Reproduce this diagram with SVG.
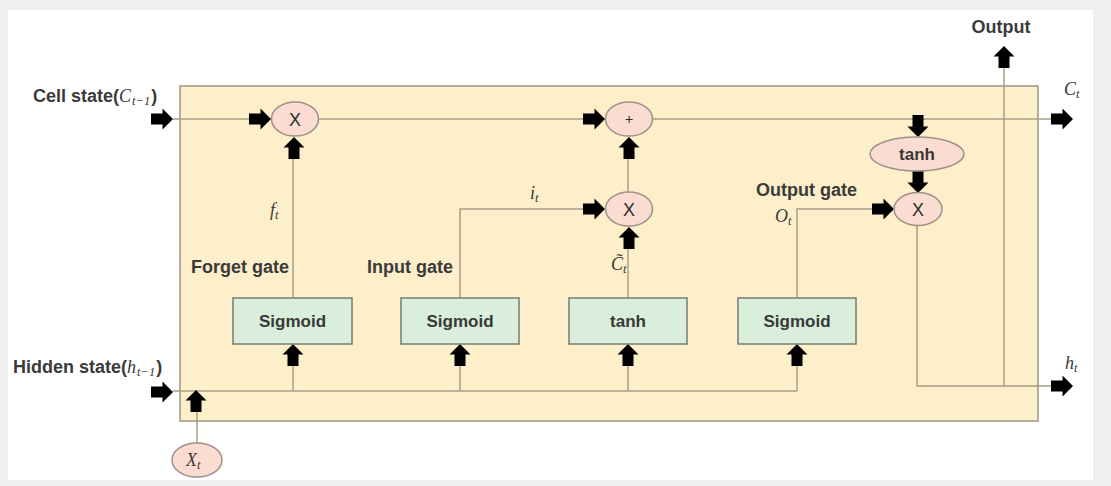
<svg xmlns="http://www.w3.org/2000/svg" width="1111" height="486" viewBox="0 0 1111 486">
  <style>
    .lbl { font-family: "Liberation Sans", Arial, sans-serif; font-size: 18px; font-weight: bold; fill: #3a3a3a; }
    .box-txt { font-family: "Liberation Sans", Arial, sans-serif; font-size: 17px; font-weight: bold; fill: #383838; text-anchor: middle; }
    .op { font-family: "Liberation Sans", Arial, sans-serif; font-size: 18px; fill: #2e2e2e; text-anchor: middle; }
    .math { font-family: "Liberation Serif", "Times New Roman", serif; font-style: italic; font-weight: normal; font-size: 18px; fill: #3a3a3a; }
    .sub { font-size: 12.5px; }
    .wire { fill: none; stroke: #a89f86; stroke-width: 1.5; }
    .gate { fill: #d9eedb; stroke: #767c74; stroke-width: 1.5; }
    .oper { fill: #fadcd0; stroke: #9f918a; stroke-width: 1.5; }
  </style>
  <defs>
    <!-- block arrow, tip at the origin, pointing right -->
    <path id="arr" d="M-22,-5.5 H-10.5 V-10.5 L0,0 L-10.5,10.5 V5.5 H-22 Z" fill="#000"/>
  </defs>

  <!-- page -->
  <rect x="0" y="0" width="1111" height="486" fill="#efefef"/>
  <rect x="8" y="10" width="1085" height="470" fill="#ffffff"/>

  <!-- LSTM cell body -->
  <g id="cell">
    <rect x="180" y="86" width="858" height="335" fill="#fcefc9" stroke="#9c9584" stroke-width="1.5"/>
  </g>

  <!-- connectors -->
  <g id="connectors">
    <path class="wire" d="M173,119 H1052"/>
    <path class="wire" d="M293,158 V298"/>
    <path class="wire" d="M628,158 V192"/>
    <path class="wire" d="M460,298 V209 H584"/>
    <path class="wire" d="M628,248 V298"/>
    <path class="wire" d="M173,391 H797"/>
    <path class="wire" d="M293,391 V364 M460,391 V364 M628,391 V364 M797,391 V364"/>
    <path class="wire" d="M197,443 V410"/>
    <path class="wire" d="M797,298 V209 H873"/>
    <path class="wire" d="M917,226 V386 H1052"/>
    <path class="wire" d="M1004,386 V68"/>

    <use href="#arr" transform="translate(173,119)"/>
    <use href="#arr" transform="translate(271,119)"/>
    <use href="#arr" transform="translate(294,137) rotate(-90)"/>
    <use href="#arr" transform="translate(605,119)"/>
    <use href="#arr" transform="translate(629,137) rotate(-90)"/>
    <use href="#arr" transform="translate(605,209)"/>
    <use href="#arr" transform="translate(629,227) rotate(-90)"/>
    <use href="#arr" transform="translate(293,344) rotate(-90)"/>
    <use href="#arr" transform="translate(460,344) rotate(-90)"/>
    <use href="#arr" transform="translate(628,344) rotate(-90)"/>
    <use href="#arr" transform="translate(797,344) rotate(-90)"/>
    <use href="#arr" transform="translate(173,392)"/>
    <use href="#arr" transform="translate(196,390) rotate(-90)"/>
    <use href="#arr" transform="translate(894,209)"/>
    <use href="#arr" transform="translate(918,137) rotate(90)"/>
    <use href="#arr" transform="translate(918,193) rotate(90)"/>
    <use href="#arr" transform="translate(1004,46) rotate(-90)"/>
    <use href="#arr" transform="translate(1073,119)"/>
    <use href="#arr" transform="translate(1073,386)"/>
  </g>

  <!-- pointwise operations -->
  <g id="forget-mul">
    <ellipse class="oper" cx="295" cy="119" rx="23.5" ry="17"/>
    <text class="op" x="295" y="125.5">X</text>
  </g>
  <g id="cell-add">
    <ellipse class="oper" cx="629" cy="119" rx="23.5" ry="17"/>
    <text class="op" x="629" y="124" style="font-size:14px">+</text>
  </g>
  <g id="input-mul">
    <ellipse class="oper" cx="629" cy="209" rx="23.5" ry="17"/>
    <text class="op" x="629" y="215.5">X</text>
  </g>
  <g id="output-tanh">
    <ellipse class="oper" cx="917" cy="154" rx="47" ry="17"/>
    <text class="box-txt" x="917" y="160">tanh</text>
  </g>
  <g id="output-mul">
    <ellipse class="oper" cx="918" cy="209" rx="24" ry="16.5"/>
    <text class="op" x="918" y="215.5">X</text>
  </g>
  <g id="input-x">
    <ellipse class="oper" cx="197" cy="460" rx="25" ry="17"/>
    <text class="math" x="186" y="466">X<tspan class="sub" dy="3">t</tspan></text>
  </g>

  <!-- neural network layers -->
  <g id="forget-sigmoid">
    <rect class="gate" x="233" y="298" width="119" height="46"/>
    <text class="box-txt" x="292.5" y="327">Sigmoid</text>
  </g>
  <g id="input-sigmoid">
    <rect class="gate" x="401" y="298" width="118" height="46"/>
    <text class="box-txt" x="460" y="327">Sigmoid</text>
  </g>
  <g id="candidate-tanh">
    <rect class="gate" x="569" y="298" width="118" height="46"/>
    <text class="box-txt" x="628" y="327">tanh</text>
  </g>
  <g id="output-sigmoid">
    <rect class="gate" x="738" y="298" width="118" height="46"/>
    <text class="box-txt" x="797" y="327">Sigmoid</text>
  </g>

  <!-- labels -->
  <g id="labels">
    <text class="lbl" x="33" y="102">Cell state(<tspan class="math">C</tspan><tspan class="math sub" dy="3" dx="1">t−1</tspan><tspan dy="-3" dx="1">)</tspan></text>
    <text class="lbl" x="13" y="373">Hidden state(<tspan class="math">h</tspan><tspan class="math sub" dy="3" dx="1">t−1</tspan><tspan dy="-3" dx="1">)</tspan></text>
    <text class="lbl" x="1001" y="33" text-anchor="middle">Output</text>
    <text class="lbl" x="191" y="273">Forget gate</text>
    <text class="lbl" x="367" y="273">Input gate</text>
    <text class="lbl" x="756" y="196">Output gate</text>

    <text class="math" x="1064" y="95">C<tspan class="sub" dy="3">t</tspan></text>
    <text class="math" x="1065" y="369">h<tspan class="sub" dy="3">t</tspan></text>
    <text class="math" x="270" y="216">f<tspan class="sub" dy="3">t</tspan></text>
    <text class="math" x="530" y="199">i<tspan class="sub" dy="3">t</tspan></text>
    <text class="math" x="611" y="270">C̃<tspan class="sub" dy="3">t</tspan></text>
    <text class="math" x="775" y="222">O<tspan class="sub" dy="3">t</tspan></text>
  </g>
</svg>
